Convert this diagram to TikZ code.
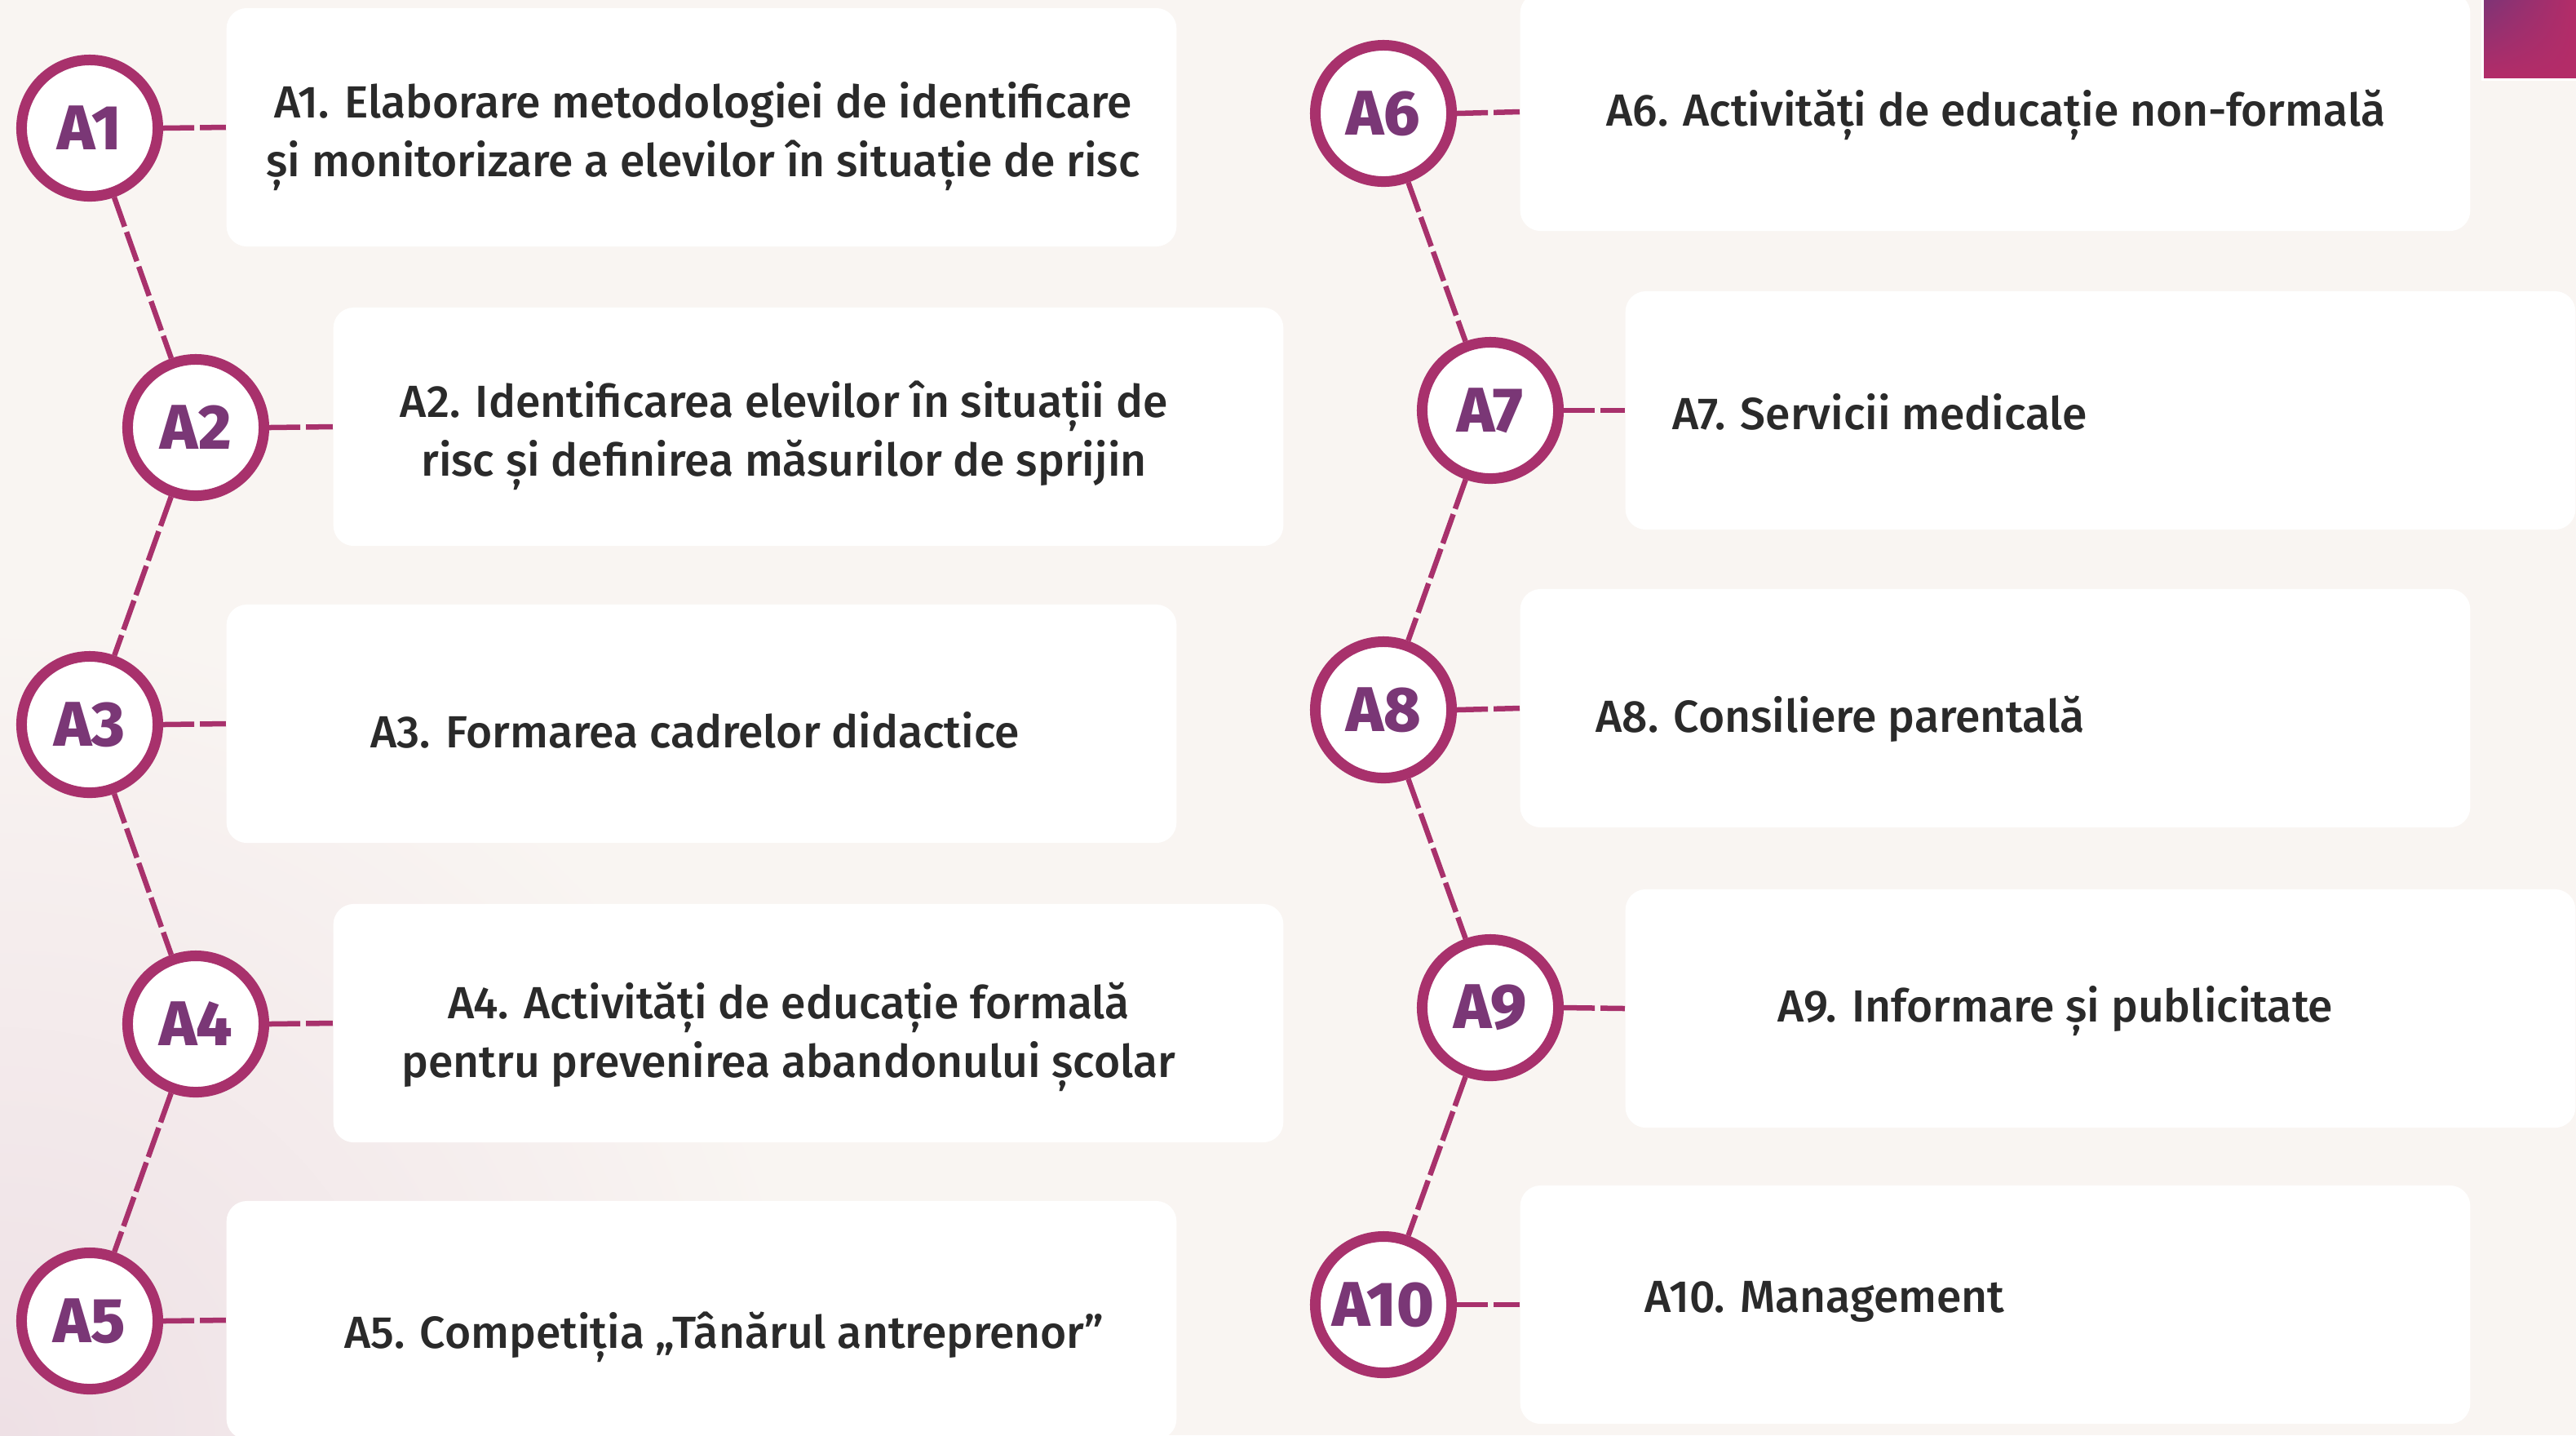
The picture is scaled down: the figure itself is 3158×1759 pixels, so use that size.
\documentclass[tikz,border=0pt]{standalone}
\usepackage{fontspec}
\setmainfont{Fira Sans}
\newfontfamily\cardfont{Fira Sans Medium}
\newfontfamily\stepfont{Fira Sans ExtraBold}
\usetikzlibrary{shapes,shadings}
\definecolor{bg_cream}{RGB}{249,245,242}
\definecolor{bg_pink}{RGB}{238,224,229}
\definecolor{ring_mag}{RGB}{168,49,108}
\definecolor{lab_purple}{RGB}{122,55,118}
\definecolor{txt_dark}{RGB}{42,42,42}
\definecolor{sq_purple}{RGB}{125,52,118}
\definecolor{sq_mag}{RGB}{180,44,104}

\begin{document}
\begin{tikzpicture}[x=0.01cm,y=-0.01cm]
    \tikzstyle{stepcirc}=[draw=ring_mag, line width=0.13cm, circle, fill=white, minimum size=1.67cm, inner sep=0pt, text=lab_purple, font=\stepfont\fontsize{22pt}{22pt}\selectfont]
    \tikzstyle{card}=[rectangle, rounded corners=0.25cm, fill=white, minimum width=11.64cm, minimum height=2.92cm, inner sep=0pt]
    \tikzstyle{cardtext}=[text=txt_dark, align=center, inner sep=0pt, font=\cardfont\fontsize{15.7pt}{20.5pt}\selectfont]
    \tikzstyle{link}=[draw=ring_mag, line width=0.065cm, dash pattern=on 0.38cm off 0.07cm]

    % background
    \useasboundingbox (0,0) rectangle (3158,1759);
    \fill[bg_cream] (0,0) rectangle (3158,1759);
    \shade[inner color=bg_pink, outer color=bg_cream] (0,1759) circle (10cm);
    \shade[upper left=sq_purple, upper right=sq_mag, lower left=sq_mag, lower right=sq_mag]
        (3043,0) rectangle (3158,97);
    \draw[white, line width=0.03cm] (3043,0) -- (3043,97) -- (3158,97);

    % cards
    \node[card] (b1)  at (860,156)   {};
    \node[card] (b2)  at (991,523)   {};
    \node[card] (b3)  at (860,887)   {};
    \node[card] (b4)  at (991,1254)  {};
    \node[card] (b5)  at (860,1618)  {};
    \node[card] (b6)  at (2446,137)  {};
    \node[card] (b7)  at (2575,503)  {};
    \node[card] (b8)  at (2446,868)  {};
    \node[card] (b9)  at (2575,1236) {};
    \node[card] (b10) at (2446,1599) {};

    % steps
    \node[stepcirc] (A1)  at (110,157)   {A1};
    \node[stepcirc] (A2)  at (240,524)   {A2};
    \node[stepcirc] (A3)  at (110,888)   {A3};
    \node[stepcirc] (A4)  at (240,1255)  {A4};
    \node[stepcirc] (A5)  at (110,1619)  {A5};
    \node[stepcirc] (A6)  at (1696,139)  {A6};
    \node[stepcirc] (A7)  at (1827,503)  {A7};
    \node[stepcirc] (A8)  at (1696,870)  {A8};
    \node[stepcirc] (A9)  at (1827,1235) {A9};
    \node[stepcirc] (A10) at (1696,1599) {A10};

    % texts
    \node[cardtext] (t1) at (862,167)  {A1. Elaborare metodologiei de identificare\\și monitorizare a elevilor în situație de risc};
    \node[cardtext] (t2) at (961,534)  {A2. Identificarea elevilor în situații de\\risc și definirea măsurilor de sprijin};
    \node[cardtext] (t3) at (852,895)  {A3. Formarea cadrelor didactice};
    \node[cardtext] (t4) at (967,1271) {A4. Activități de educație formală\\pentru prevenirea abandonului școlar};
    \node[cardtext] (t5) at (888,1639) {A5. Competiția „Tânărul antreprenor”};
    \node[cardtext] (t6) at (2447,141) {A6. Activități de educație non-formală};
    \node[cardtext, anchor=west] (t7)  at (2050,505)  {A7. Servicii medicale};
    \node[cardtext, anchor=west] (t8)  at (1956,881)  {A8. Consiliere parentală};
    \node[cardtext] (t9) at (2520,1239) {A9. Informare și publicitate};
    \node[cardtext, anchor=west] (t10) at (2016,1595) {A10. Management};

    \path[link]
     (A1) edge (A2)  (A2) edge (A3)  (A3) edge (A4)  (A4) edge (A5)
     (A6) edge (A7)  (A7) edge (A8)  (A8) edge (A9)  (A9) edge (A10)
     (A1.east) edge (b1.west)  (A2.east) edge (b2.west)  (A3.east) edge (b3.west)
     (A4.east) edge (b4.west)  (A5.east) edge (b5.west)  (A6.east) edge (b6.west)
     (A7.east) edge (b7.west)  (A8.east) edge (b8.west)  (A9.east) edge (b9.west)
     (A10.east) edge (b10.west);
\end{tikzpicture}
\end{document}
